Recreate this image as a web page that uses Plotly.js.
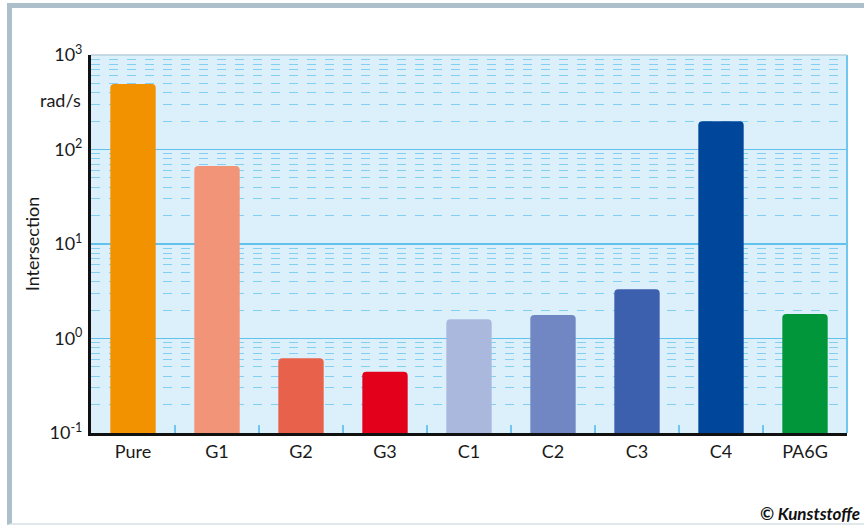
<!DOCTYPE html>
<html>
<head>
<meta charset="utf-8">
<script src="https://cdn.plot.ly/plotly-3.0.1.min.js"></script>
<style>
html,body{margin:0;padding:0;background:#fff;}
#frame{position:absolute;left:7px;top:3px;width:900px;height:522px;border-left:5px solid #adbfcb;border-top:5px solid #adbfcb;border-bottom:2px solid #e1e8ec;box-sizing:border-box;}
#chart{position:absolute;left:0;top:0;width:864px;height:529px;}
</style>
</head>
<body>
<div id="frame"></div>
<div id="chart"></div>
<script>
const categories = ["Pure","G1","G2","G3","C1","C2","C3","C4","PA6G"];
const intersection = [493, 67, 0.617, 0.445, 1.6, 1.77, 3.32, 199, 1.82];
const barColors = ["#f39200","#f19478","#e8614a","#e2001a","#abb8de","#7087c4","#3d60ae","#00469b","#009639"];
const yTickVals = [0.1, 1, 10, 100, 1000];
const yTickText = ["10<sup>-1</sup>","10<sup>0</sup>","10<sup>1</sup>","10<sup>2</sup>","10<sup>3</sup>"];
const unitLabel = "rad/s";
const yTitle = "Intersection";
const credit = "© Kunststoffe";

const font = "Lato, 'Open Sans', sans-serif";

const trace = {
  type: "bar",
  x: categories,
  y: intersection,
  marker: {color: barColors, cornerradius: 4, line: {width: 0}},
  width: 0.54,
  hoverinfo: "x+y"
};

const layout = {
  width: 864, height: 529,
  margin: {l: 91, r: 17, t: 55, b: 96},
  paper_bgcolor: "rgba(0,0,0,0)",
  plot_bgcolor: "#dcf0fc",
  showlegend: false,
  font: {family: font, size: 18, color: "#1a1a1a"},
  xaxis: {
    type: "category",
    showline: true, linecolor: "#111", linewidth: 3,
    ticks: "inside", tickson: "boundaries", ticklen: 8, tickwidth: 2, tickcolor: "#6fc6ee",
    tickfont: {family: font, size: 18, color: "#1a1a1a"},
    showgrid: false, zeroline: false,
    range: [-0.5, 8.5]
  },
  yaxis: {
    type: "log",
    range: [-1, 3],
    tickvals: yTickVals, ticktext: yTickText,
    tickfont: {family: font, size: 18, color: "#1a1a1a"},
    ticks: "",
    ticklabelstandoff: 2,
    showline: true, linecolor: "#111", linewidth: 3,
    showgrid: true, gridcolor: "#62c2ee", gridwidth: 1.5,
    zeroline: false,
    minor: {dtick: "D1", showgrid: true, gridcolor: "#82cff3", griddash: "dash", gridwidth: 1, ticks: ""},
    title: {text: yTitle, font: {family: font, size: 18, color: "#1a1a1a"}, standoff: 6}
  },
  shapes: [
    {type: "line", xref: "paper", yref: "paper", x0: 1, x1: 1, y0: 0, y1: 1, line: {color: "#6fc6ee", width: 2}},
    {type: "line", xref: "paper", yref: "paper", x0: 0, x1: 1, y0: 1, y1: 1, line: {color: "#b9cfdc", width: 1.5}}
  ],
  annotations: [
    {xref: "paper", yref: "y", x: 0, y: 2.524, xanchor: "right", yanchor: "middle", xshift: -8,
     text: unitLabel, showarrow: false, font: {family: font, size: 18, color: "#1a1a1a"}},
    {xref: "paper", yref: "paper", x: 1.02, y: -0.212, xanchor: "right", yanchor: "middle",
     text: "<b><i>" + credit + "</i></b>", showarrow: false, font: {family: font, size: 17, color: "#111"}}
  ],
  bargap: 0.46
};

Plotly.newPlot("chart", [trace], layout, {displayModeBar: false, staticPlot: true});
</script>
</body>
</html>
